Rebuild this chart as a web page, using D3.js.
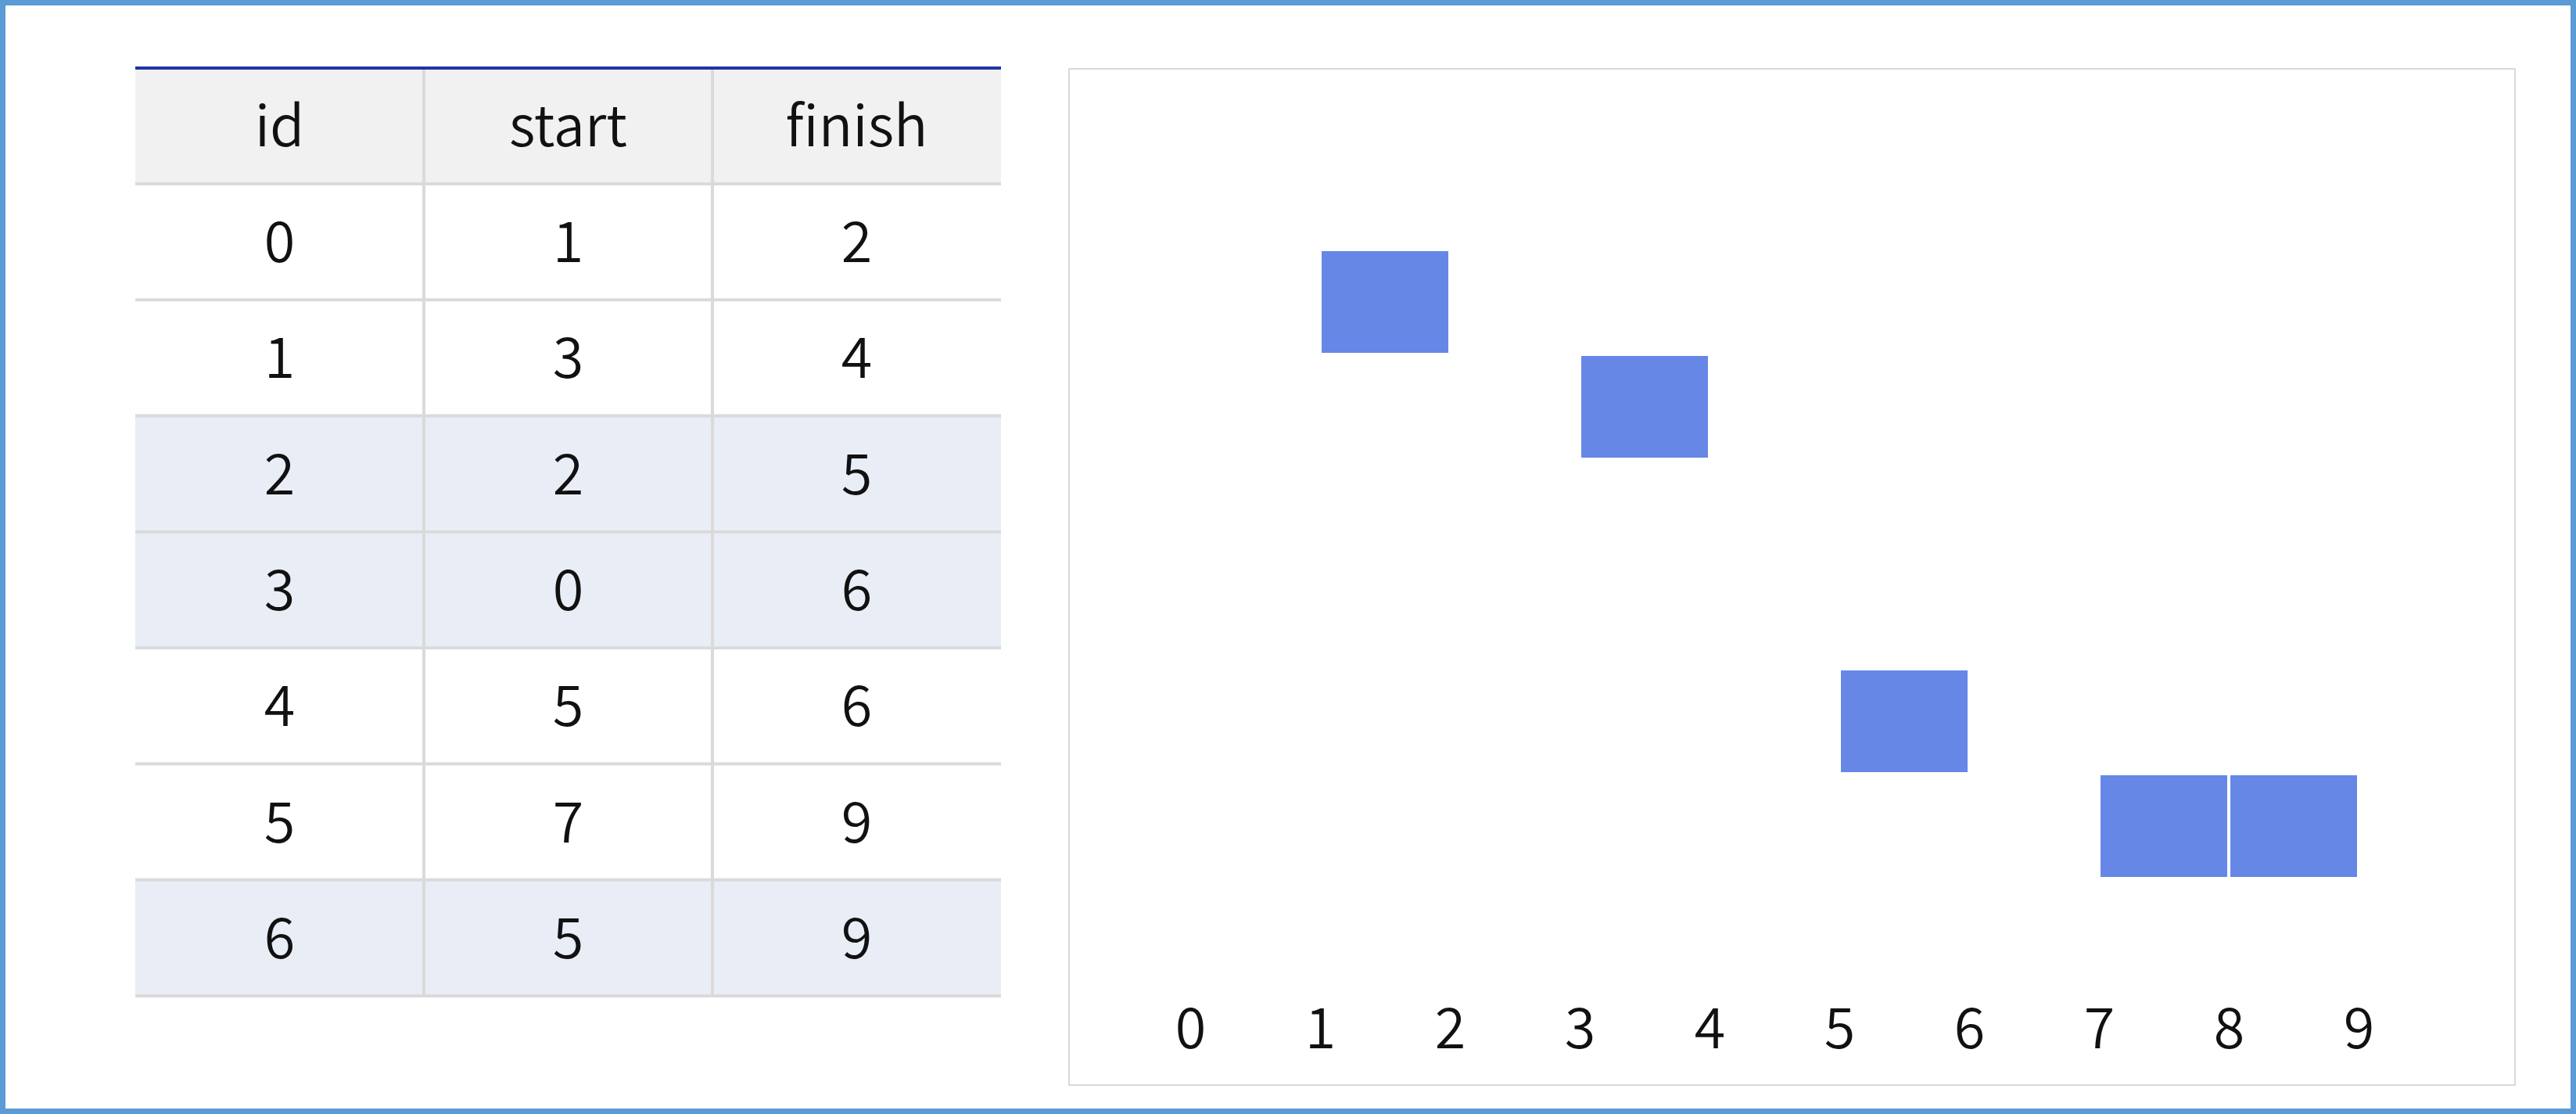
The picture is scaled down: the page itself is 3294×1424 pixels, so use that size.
<!DOCTYPE html>
<html>
<head>
<meta charset="utf-8">
<script src="https://cdn.jsdelivr.net/npm/d3@7"></script>
<style>
  html, body { margin: 0; padding: 0; background: #ffffff; }
  svg { display: block; }
  text { font-family: "Noto Sans CJK KR", "Noto Sans", sans-serif; font-weight: 350; fill: #111; }
</style>
</head>
<body>
<svg id="chart" width="3294" height="1424"></svg>
<script>
// ---- data ----
const columns = ["id", "start", "finish"];
const ids = [0, 1, 2, 3, 4, 5, 6];
const starts = [1, 3, 2, 0, 5, 7, 5];
const finishes = [2, 4, 5, 6, 6, 9, 9];
const selectedIds = [0, 1, 4, 5];
const tickLabels = [0, 1, 2, 3, 4, 5, 6, 7, 8, 9];

const rows = ids.map((id, i) => ({ id: id, start: starts[i], finish: finishes[i] }));

const W = 3294, H = 1424;
const svg = d3.select("#chart");
const FS = 72;

// outer frame
svg.append("rect")
  .attr("x", 3.5).attr("y", 3.5)
  .attr("width", W - 7).attr("height", H - 7)
  .attr("fill", "#ffffff")
  .attr("stroke", "#5b9bd5").attr("stroke-width", 7);

// ---- table ----
const tLeft = 173, tRight = 1280, tTop = 85, headBottom = 233, tBottom = 1271;
const colX = d3.scaleBand().domain(columns).range([tLeft, tRight]);
const rowY = d3.scaleBand().domain(ids).range([headBottom, tBottom]);
const table = svg.append("g");

table.append("rect")
  .attr("x", tLeft).attr("y", tTop)
  .attr("width", tRight - tLeft).attr("height", headBottom - tTop)
  .attr("fill", "#f1f1f1");

table.selectAll("rect.rowbg")
  .data(rows)
  .join("rect")
  .attr("class", "rowbg")
  .attr("x", tLeft)
  .attr("y", d => rowY(d.id))
  .attr("width", tRight - tLeft)
  .attr("height", rowY.bandwidth())
  .attr("fill", d => selectedIds.includes(d.id) ? "#ffffff" : "#e9edf5");

const hLines = ids.map(id => rowY(id)).concat([tBottom]);
table.selectAll("rect.hline")
  .data(hLines)
  .join("rect")
  .attr("class", "hline")
  .attr("x", tLeft).attr("y", d => d)
  .attr("width", tRight - tLeft).attr("height", 4)
  .attr("fill", "#dadada");

table.selectAll("rect.vline")
  .data(columns.slice(1))
  .join("rect")
  .attr("class", "vline")
  .attr("x", d => colX(d) - 2).attr("y", tTop)
  .attr("width", 4).attr("height", tBottom - tTop + 4)
  .attr("fill", "#dadada");

table.append("rect")
  .attr("x", tLeft).attr("y", tTop)
  .attr("width", tRight - tLeft).attr("height", 4)
  .attr("fill", "#1f35a5");

table.selectAll("text.head")
  .data(columns)
  .join("text")
  .attr("class", "head")
  .attr("x", d => colX(d) + colX.bandwidth() / 2)
  .attr("y", (tTop + 4 + headBottom) / 2 + 26)
  .attr("text-anchor", "middle")
  .attr("font-size", FS)
  .text(d => d);

rows.forEach(r => {
  columns.forEach(c => {
    table.append("text")
      .attr("x", colX(c) + colX.bandwidth() / 2)
      .attr("y", rowY(r.id) + 2 + rowY.bandwidth() / 2 + 26)
      .attr("text-anchor", "middle")
      .attr("font-size", FS)
      .text(r[c]);
  });
});

// ---- chart panel ----
svg.append("rect")
  .attr("x", 1367).attr("y", 88)
  .attr("width", 1849).attr("height", 1299)
  .attr("fill", "#ffffff")
  .attr("stroke", "#d9d9d9").attr("stroke-width", 2);

const x = d3.scaleLinear().domain([0, 9]).range([1522, 3016]);
const y = d3.scaleBand().domain(ids).range([319, 1257]);

const cells = [];
rows.filter(r => selectedIds.includes(r.id)).forEach(r => {
  d3.range(r.start, r.finish).forEach(k => cells.push({ id: r.id, k: k }));
});

svg.append("g").selectAll("rect")
  .data(cells)
  .join("rect")
  .attr("x", d => x(d.k) + 2)
  .attr("y", d => y(d.id) + 2)
  .attr("width", d => x(d.k + 1) - x(d.k) - 4)
  .attr("height", y.bandwidth() - 4)
  .attr("fill", "royalblue")
  .attr("fill-opacity", 0.8);

const axis = d3.axisBottom(x).tickValues(tickLabels).tickSize(0).tickPadding(0).tickFormat(d3.format("d"));
const ax = svg.append("g").attr("transform", "translate(0,1340)").call(axis);
ax.select(".domain").remove();
ax.selectAll("text")
  .attr("y", 0).attr("dy", 0)
  .attr("font-size", FS)
  .attr("font-family", "\"Noto Sans CJK KR\", \"Noto Sans\", sans-serif")
  .attr("font-weight", 350)
  .attr("fill", "#111");
</script>
</body>
</html>
